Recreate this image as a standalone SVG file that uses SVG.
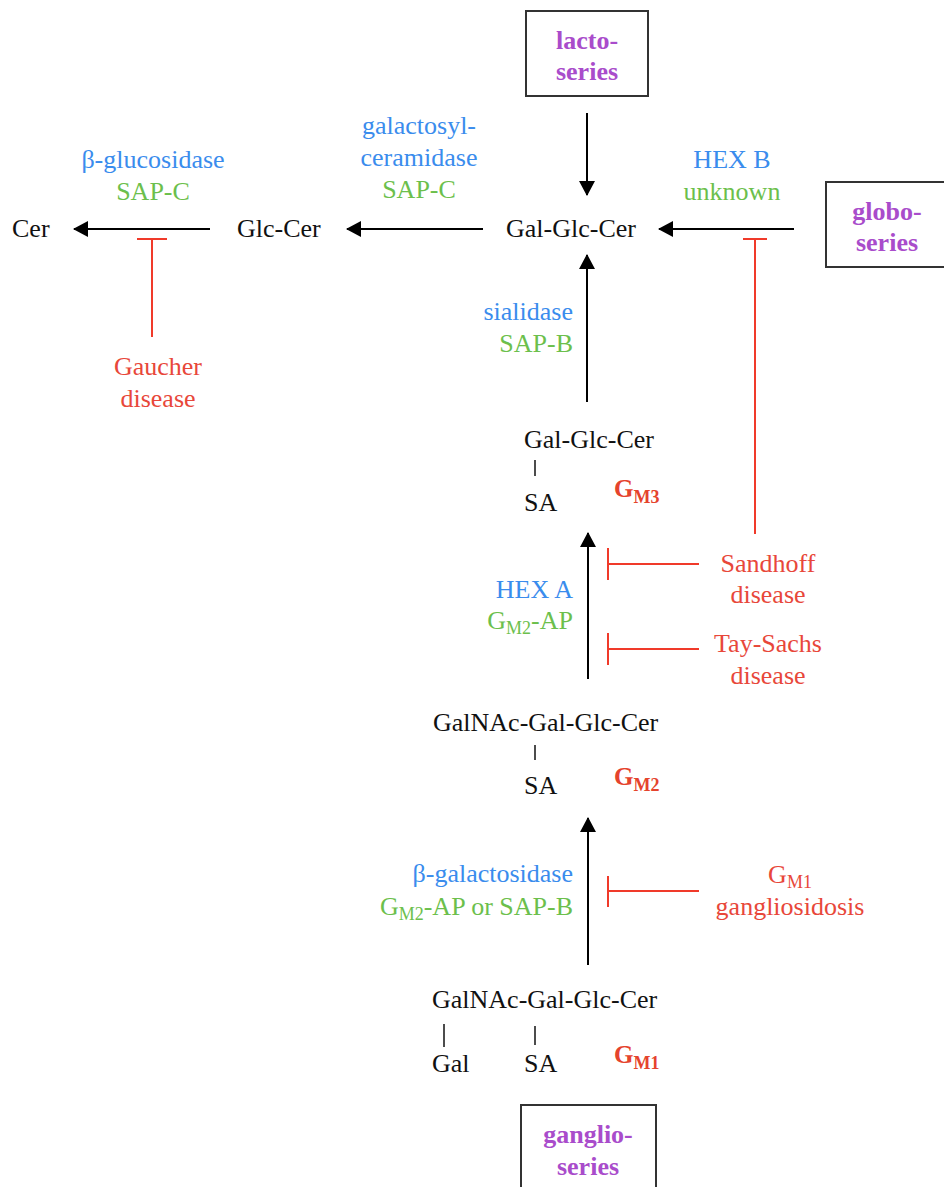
<svg xmlns="http://www.w3.org/2000/svg" width="944" height="1187" viewBox="0 0 944 1187">
<defs>
<marker id="ah" markerWidth="16" markerHeight="16" refX="14" refY="8" orient="auto" markerUnits="userSpaceOnUse"><path d="M0,0 L15,8 L0,16 Z" fill="#000"/></marker>
</defs>
<style>
.t{font-family:'Liberation Serif','Times New Roman',Times,serif;font-size:26px}
.k{fill:#111}
.b{fill:#3a8ced}
.g{fill:#6cbf4c}
.r{fill:#e8473a}
.p{fill:#a94ccb;font-weight:bold}
.gm{fill:#e5432d;font-weight:bold;font-size:25px}
.sub{font-size:18px}
.box{fill:none;stroke:#333;stroke-width:2}
.ar{stroke:#000;stroke-width:2;fill:none;marker-end:url(#ah)}
.inh{stroke:#f03a2a;stroke-width:2;fill:none}
.bond{stroke:#111;stroke-width:1.5}
.m{text-anchor:middle}
.e{text-anchor:end}
</style>
<rect width="944" height="1187" fill="#fff"/>

<g id="connectors">
<path class="ar" d="M587,113 L587,195"/>
<path class="ar" d="M794,229 L659,229"/>
<path class="ar" d="M483,229 L347,229"/>
<path class="ar" d="M210,229 L74,229"/>
<path class="ar" d="M587,402 L587,255"/>
<path class="ar" d="M588,679 L588,533"/>
<path class="ar" d="M588,965 L588,818"/>
<path class="inh" d="M152,337 V239 M137,239 H167"/>
<path class="inh" d="M755,534 V239 M743,239 H767"/>
<path class="inh" d="M699,564 H608 M608,548 V580"/>
<path class="inh" d="M699,649 H608 M608,633 V665"/>
<path class="inh" d="M699,891 H608 M608,876 V907"/>
</g>

<g font-family="Liberation Serif" font-size="26">
<g id="lacto">
<rect class="box" x="526" y="11" width="122" height="85"/>
<text class="t p m" x="587" y="49">lacto-</text>
<text class="t p m" x="587" y="80">series</text>
</g>
<g id="globo">
<rect class="box" x="826" y="182" width="130" height="85"/>
<text class="t p m" x="887" y="220">globo-</text>
<text class="t p m" x="887" y="251">series</text>
</g>
<g id="ganglio">
<rect class="box" x="521" y="1105" width="135" height="100"/>
<text class="t p m" x="588" y="1143">ganglio-</text>
<text class="t p m" x="588" y="1175">series</text>
</g>

<g id="cer"><text class="t k" x="12" y="237">Cer</text></g>
<g id="glccer"><text class="t k" x="237" y="237">Glc-Cer</text></g>
<g id="galglccer"><text class="t k" x="506" y="237">Gal-Glc-Cer</text></g>

<g id="gm3">
<text class="t k" x="524" y="448">Gal-Glc-Cer</text>
<line class="bond" x1="535" y1="460" x2="535" y2="476"/>
<text class="t k" x="524" y="511">SA</text>
<text class="t gm" x="614" y="497">G<tspan class="sub" dy="6">M3</tspan></text>
</g>
<g id="gm2">
<text class="t k" x="433" y="731">GalNAc-Gal-Glc-Cer</text>
<line class="bond" x1="535" y1="745" x2="535" y2="760"/>
<text class="t k" x="524" y="794">SA</text>
<text class="t gm" x="614" y="785">G<tspan class="sub" dy="6">M2</tspan></text>
</g>
<g id="gm1">
<text class="t k" x="432" y="1008">GalNAc-Gal-Glc-Cer</text>
<line class="bond" x1="444" y1="1024" x2="444" y2="1047"/>
<line class="bond" x1="535" y1="1026" x2="535" y2="1045"/>
<text class="t k" x="432" y="1072">Gal</text>
<text class="t k" x="524" y="1072">SA</text>
<text class="t gm" x="614" y="1063">G<tspan class="sub" dy="6">M1</tspan></text>
</g>

<g id="enz-glucosidase">
<text class="t b m" x="153" y="168">β-glucosidase</text>
<text class="t g m" x="153" y="200">SAP-C</text>
</g>
<g id="enz-galactosylceramidase">
<text class="t b m" x="419" y="134">galactosyl-</text>
<text class="t b m" x="419" y="166">ceramidase</text>
<text class="t g m" x="419" y="198">SAP-C</text>
</g>
<g id="enz-hexb">
<text class="t b m" x="732" y="168">HEX B</text>
<text class="t g m" x="732" y="200">unknown</text>
</g>
<g id="enz-sialidase">
<text class="t b e" x="573" y="320">sialidase</text>
<text class="t g e" x="573" y="352">SAP-B</text>
</g>
<g id="enz-hexa">
<text class="t b e" x="573" y="598">HEX A</text>
<text class="t g e" x="573" y="629">G<tspan class="sub" dy="5">M2</tspan><tspan dy="-5">-AP</tspan></text>
</g>
<g id="enz-galactosidase">
<text class="t b e" x="573" y="882">β-galactosidase</text>
<text class="t g e" x="573" y="915">G<tspan class="sub" dy="5">M2</tspan><tspan dy="-5">-AP or SAP-B</tspan></text>
</g>

<g id="gaucher">
<text class="t r m" x="158" y="375">Gaucher</text>
<text class="t r m" x="158" y="407">disease</text>
</g>
<g id="sandhoff">
<text class="t r m" x="768" y="572">Sandhoff</text>
<text class="t r m" x="768" y="603">disease</text>
</g>
<g id="taysachs">
<text class="t r m" x="768" y="652">Tay-Sachs</text>
<text class="t r m" x="768" y="684">disease</text>
</g>
<g id="gm1gangliosidosis">
<text class="t r m" x="790" y="883">G<tspan class="sub" dy="5">M1</tspan></text>
<text class="t r m" x="790" y="915">gangliosidosis</text>
</g>
</g>
</svg>
